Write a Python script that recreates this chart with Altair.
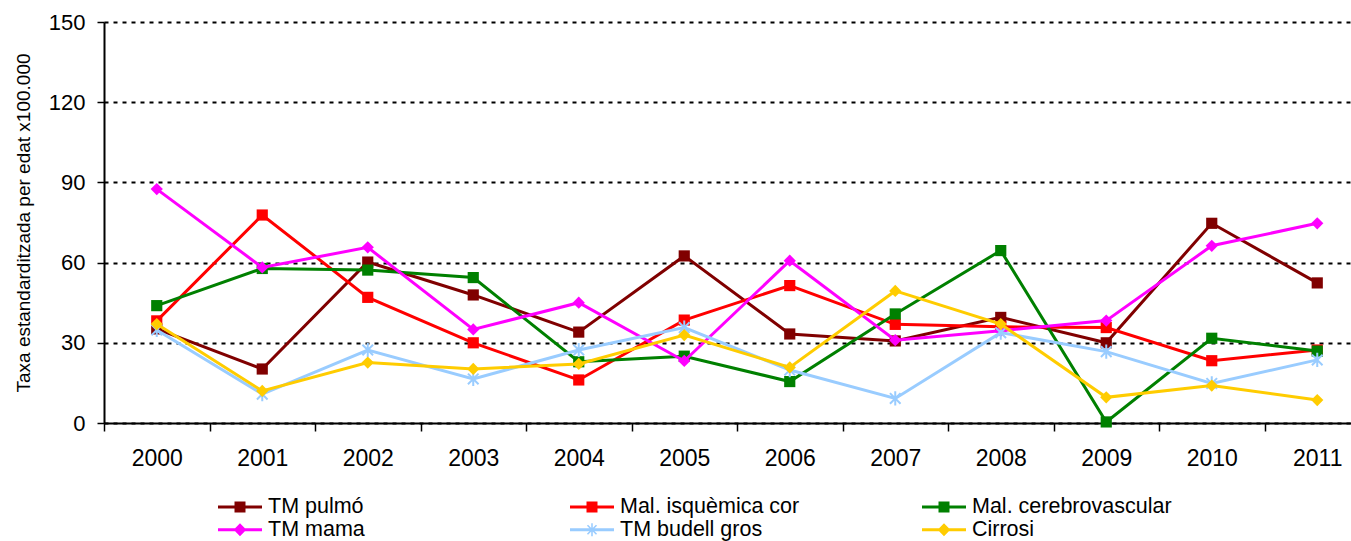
import altair as alt
import pandas as pd

FONT = "Liberation Sans"

# Years on the category axis
YEARS = [str(y) for y in range(2000, 2012)]

# Series names, in legend order
SERIES = [
    "TM pulmó",
    "Mal. isquèmica cor",
    "Mal. cerebrovascular",
    "TM mama",
    "TM budell gros",
    "Cirrosi",
]

# Age-standardised rates per 100,000, one list per series
TM_PULMO = [35.2, 20.2, 60.2, 47.9, 34.0, 62.5, 33.3, 30.7, 39.5, 30.0, 74.7, 52.4]
MAL_ISQUEMICA = [38.2, 77.8, 47.0, 30.0, 16.1, 38.5, 51.4, 36.9, 36.0, 35.7, 23.3, 27.3]
MAL_CEREBRO = [43.9, 57.8, 57.2, 54.4, 22.9, 25.0, 15.5, 40.8, 64.5, 0.4, 31.7, 26.9]
TM_MAMA = [87.5, 58.2, 65.7, 35.0, 45.0, 23.2, 60.7, 31.0, 34.5, 38.3, 66.3, 74.7]
TM_BUDELL = [34.8, 10.8, 27.3, 16.5, 27.3, 35.7, 19.8, 9.2, 33.8, 26.7, 14.8, 23.6]
CIRROSI = [37.0, 12.0, 22.6, 20.2, 22.1, 32.9, 20.8, 49.4, 37.0, 9.6, 14.0, 8.6]

VALUES = [TM_PULMO, MAL_ISQUEMICA, MAL_CEREBRO, TM_MAMA, TM_BUDELL, CIRROSI]
COLORS = ["#800000", "#FF0000", "#008000", "#FF00FF", "#99CCFF", "#FFCC00"]
MARKERS = ["square", "square", "square", "diamond", "asterisk", "diamond"]

Y_TICKS = [0, 30, 60, 90, 120, 150]

# Marker paths (unit box [-1, 1])
ASTERISK = "M0,-1V1M-0.75,-0.75L0.75,0.75M-0.75,0.75L0.75,-0.75"

# Legend symbols: a short line segment with the series marker on it (all filled shapes)
LINE_BAR = "M-1,-0.065H1V0.065H-1Z"
LEG_SQUARE = LINE_BAR + "M-0.25,-0.25H0.25V0.25H-0.25Z"
LEG_DIAMOND = LINE_BAR + "M0,-0.29L0.29,0L0,0.29L-0.29,0Z"
LEG_ASTERISK = (
    LINE_BAR
    + "M-0.035,-0.3H0.035V0.3H-0.035Z"
    + "M-0.18,-0.23L0.23,0.18L0.18,0.23L-0.23,-0.18Z"
    + "M0.18,-0.23L0.23,-0.18L-0.18,0.23L-0.23,0.18Z"
)
LEG_PATHS = {"square": LEG_SQUARE, "diamond": LEG_DIAMOND, "asterisk": LEG_ASTERISK}

rows = []
for name, vals in zip(SERIES, VALUES):
    for yr, v in zip(YEARS, vals):
        rows.append({"year": yr, "series": name, "value": v})
df = pd.DataFrame(rows)

x_enc = alt.X(
    "year:O",
    sort=YEARS,
    bandPosition=0.5,
    scale=alt.Scale(type="band", domain=YEARS, range=[0, 1266], paddingInner=0, paddingOuter=0),
    axis=alt.Axis(
        title=None,
        tickBand="extent",
        labelAngle=0,
        labelFont=FONT,
        labelFontSize=23,
        labelColor="black",
        labelPadding=16,
        tickSize=8,
        tickColor="black",
        tickWidth=1.5,
        domainColor="black",
        domainWidth=2,
        grid=False,
    ),
)

y_enc = alt.Y(
    "value:Q",
    scale=alt.Scale(domain=[0, 150], nice=False, zero=True),
    axis=alt.Axis(
        values=Y_TICKS,
        title="Taxa estandarditzada per edat x100.000",
        titleFont=FONT,
        titleFontSize=19,
        titleFontWeight="normal",
        titleColor="black",
        titlePadding=15,
        labelFont=FONT,
        labelFontSize=22,
        labelColor="black",
        labelPadding=12,
        tickSize=7,
        tickColor="black",
        tickWidth=1.5,
        domainColor="black",
        domainWidth=2,
        grid=True,
        gridColor="black",
        gridWidth=2,
        gridDash=[4, 5],
    ),
)

layers = []
for name, color, marker in zip(SERIES, COLORS, MARKERS):
    base = alt.Chart(df).transform_filter(alt.datum.series == name)
    layers.append(base.mark_line(color=color, strokeWidth=3).encode(x=x_enc, y=y_enc))
    if marker == "asterisk":
        pts = base.mark_point(
            shape=ASTERISK, size=200, filled=False, stroke=color, strokeWidth=2, opacity=1
        )
    elif marker == "square":
        pts = base.mark_point(shape="square", size=125, filled=True, color=color, opacity=1)
    else:
        pts = base.mark_point(shape="diamond", size=150, filled=True, color=color, opacity=1)
    layers.append(pts.encode(x=x_enc, y=y_enc))

legend_props = dict(
    title=None,
    orient="none",
    legendX=114,
    legendY=474,
    direction="horizontal",
    columns=3,
    gridAlign="all",
    columnPadding=102,
    rowPadding=0,
    clipHeight=21.5,
    symbolSize=1936,
    symbolStrokeWidth=0,
    symbolOffset=0,
    labelFont=FONT,
    labelFontSize=21.5,
    labelColor="black",
    labelOffset=6,
    labelLimit=500,
)

legend_layer = (
    alt.Chart(df)
    .transform_filter("false")
    .mark_point(filled=True, opacity=1)
    .encode(
        x=x_enc,
        y=y_enc,
        color=alt.Color(
            "series:N",
            scale=alt.Scale(domain=SERIES, range=COLORS),
            legend=alt.Legend(**legend_props),
        ),
        shape=alt.Shape(
            "series:N",
            scale=alt.Scale(domain=SERIES, range=[LEG_PATHS[m] for m in MARKERS]),
            legend=alt.Legend(**legend_props),
        ),
    )
)

chart = (
    alt.layer(*layers, legend_layer)
    .properties(
        width=1247,
        height=401,
        padding={"left": 104, "top": 22, "right": 0, "bottom": 118},
        autosize=alt.AutoSizeParams(type="none"),
        background="white",
    )
    .configure_view(stroke=None)
)

chart.save("out.html", embed_options={"renderer": "svg", "actions": False})
